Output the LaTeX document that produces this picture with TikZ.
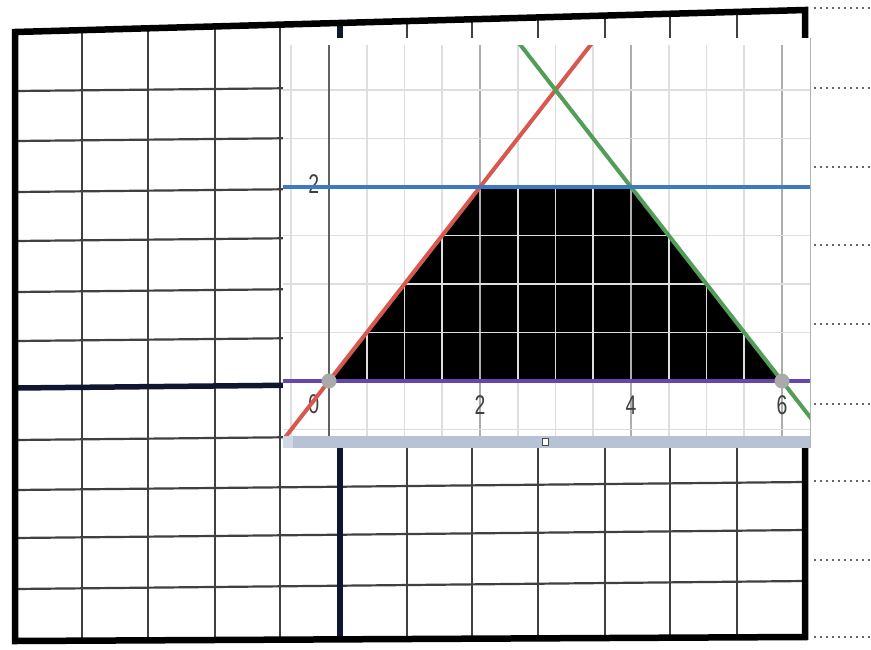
\documentclass[tikz,border=0pt]{standalone}
\usepackage{fontspec}
\setmainfont{Liberation Sans}
\usepackage{xcolor}

\definecolor{navyink}{RGB}{14,22,48}
\definecolor{graphred}{RGB}{214,88,78}
\definecolor{graphgreen}{RGB}{82,158,88}
\definecolor{graphblue}{RGB}{60,123,196}
\definecolor{graphpurple}{RGB}{102,70,172}
\definecolor{pointgray}{RGB}{170,170,170}
\definecolor{scrollblue}{RGB}{183,195,212}
\definecolor{scrolllight}{RGB}{206,216,230}

\begin{document}
\begin{tikzpicture}[
      x=1pt, y=-1pt,
      paperline/.style={draw=black!75, line width=2.2pt},
      boldline/.style={draw=navyink, line width=5.5pt},
      border/.style={draw=black, line width=6.5pt, line join=miter},
      gridminor/.style={draw=black!13, line width=1.6pt},
      gridmajor/.style={draw=black!32, line width=1.6pt},
      axisline/.style={draw=black!62, line width=1.8pt},
      graphline/.style={line width=4pt},
      pointdot/.style={fill=pointgray},
      ticklabel/.style={font=\fontsize{27}{27}\selectfont, text=black!75, inner sep=0pt, xscale=0.72},
      margindots/.style={draw=black!60, line width=2pt, dash pattern=on 2pt off 4pt}
  ]

  \useasboundingbox (0,0) rectangle (871,649);
  \fill[white] (0,0) rectangle (871,649);

  % paper sheet
  \foreach \px in {82,148,215,280,407,472,538,605,670,737}
    \draw[paperline] (\px,{32-22*(\px-15)/790}) -- (\px,{641-4*(\px-15)/790});
  \foreach \py in {91,141,192,241,292,341,440,490,538,589}
    \draw[paperline] (15,\py) -- (805,\py-8);
  \draw[boldline] (15,388) -- (805,380);
  \draw[boldline] (340,23) -- (340,639);
  \draw[border] (15,32) -- (805,10) -- (805,637) -- (15,641) -- cycle;
  \foreach \my in {8,88,167,245,324,404,481,560,637}
    \draw[margindots] (814,\my) -- (871,\my);

  % pasted graph
  \fill[white] (283,38) rectangle (810,448);
  \begin{scope}[shift={(329,381)}, x=75.5pt, y=97pt]
    \clip (-0.609,-0.567) rectangle (6.371,3.454);
    \fill[black] (0,0) -- (2,2) -- (4,2) -- (6,0) -- cycle;
    \foreach \gx in {-0.5,0.5,...,6.5}
      \draw[gridminor] (\gx,-1) -- (\gx,4);
    \foreach \gx in {1,3,5}
      \draw[gridminor] (\gx,-1) -- (\gx,4);
    \foreach \gx in {2,4,6}
      \draw[gridmajor] (\gx,-1) -- (\gx,4);
    \foreach \gy in {-0.5,0.5,1,1.5,2.5,3,3.5}
      \draw[gridminor] (-1,\gy) -- (7,\gy);
    \draw[axisline] (0,-1) -- (0,4);

    \node[ticklabel] (ylabtwo) at (-0.2,2.03) {2};
    \node[ticklabel] (xlabzero) at (-0.2,-0.24) {0};
    \node[ticklabel] (xlabtwo) at (2,-0.25) {2};
    \node[ticklabel] (xlabfour) at (4,-0.25) {4};
    \node[ticklabel] (xlabsix) at (6,-0.25) {6};

    \draw[graphline, graphred] (-0.8,-0.8) -- (3.6,3.6);
    \draw[graphline, graphgreen] (2.4,3.6) -- (6.7,-0.7);
    \draw[graphline, graphblue] (-1,2) -- (7,2);
    \draw[graphline, graphpurple] (-1,0) -- (7,0);
    \fill[pointdot] (0,0) circle[radius=7.5pt];
    \fill[pointdot] (6,0) circle[radius=7.5pt];
  \end{scope}

  % scroll bar
  \fill[scrollblue] (283,436) rectangle (810,448);
  \fill[scrolllight] (283,436) rectangle (293,448);
  \draw[fill=white, draw=black!70, line width=0.9pt] (542.5,438) rectangle (548.5,445);
  \draw[draw=black!30, line width=1pt] (810,38) -- (810,448);

\end{tikzpicture}
\end{document}
